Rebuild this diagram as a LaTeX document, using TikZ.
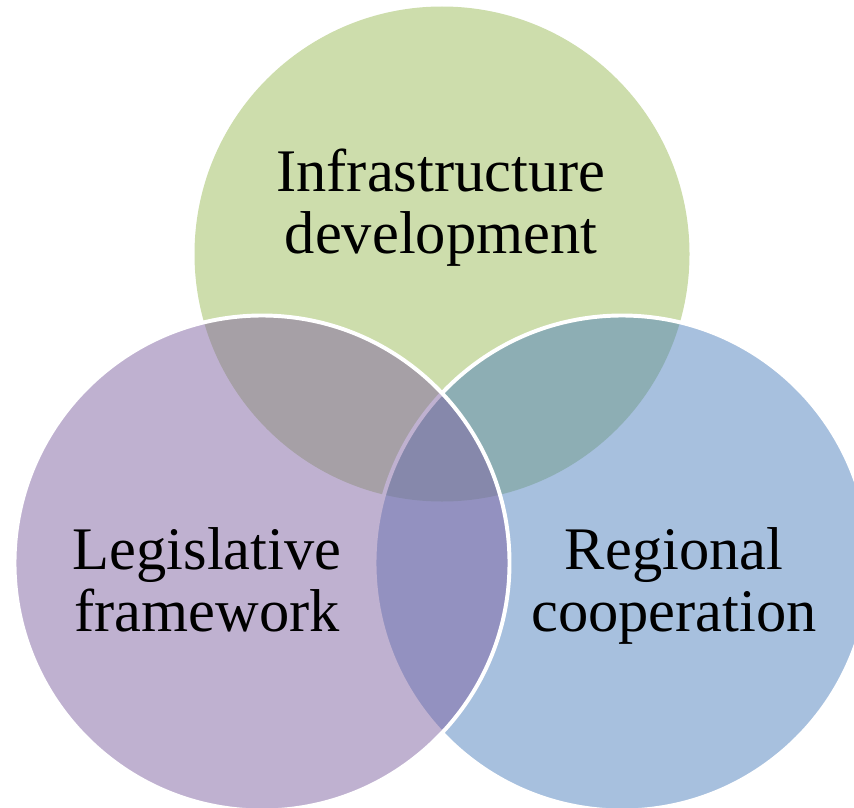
\documentclass[tikz,border=0pt]{standalone}
\usepackage{fontspec}
\setmainfont{Liberation Serif}
\usepackage{tikz}
\definecolor{infragreen}{HTML}{9BBB59}
\definecolor{regionblue}{HTML}{4F81BD}
\definecolor{legispurple}{HTML}{8064A2}
\tikzset{
    venn/.style={fill opacity=0.5, draw=white, draw opacity=1, line width=2.8pt},
    vennlabel/.style={align=center, inner sep=0pt, font=\fontsize{43}{44}\selectfont}
}

\begin{document}
\begin{tikzpicture}[x=0.025cm,y=-0.025cm]
    \useasboundingbox (0,0) rectangle (854,808);
    \clip (0,0) rectangle (854,808);
    
    \fill[infragreen,fill opacity=0.5] (442,254) circle (247.5);
    \draw[venn,fill=regionblue] (622,563) circle (247.5);
    \draw[venn,fill=legispurple] (262,563) circle (247.5);
    
    \node[vennlabel] (infra) at (441,208) {Infrastructure\\development};
    \node[vennlabel] (legis) at (207,580) {Legislative\\framework};
    \node[vennlabel] (region) at (674,586) {Regional\\cooperation};
\end{tikzpicture}
\end{document}
